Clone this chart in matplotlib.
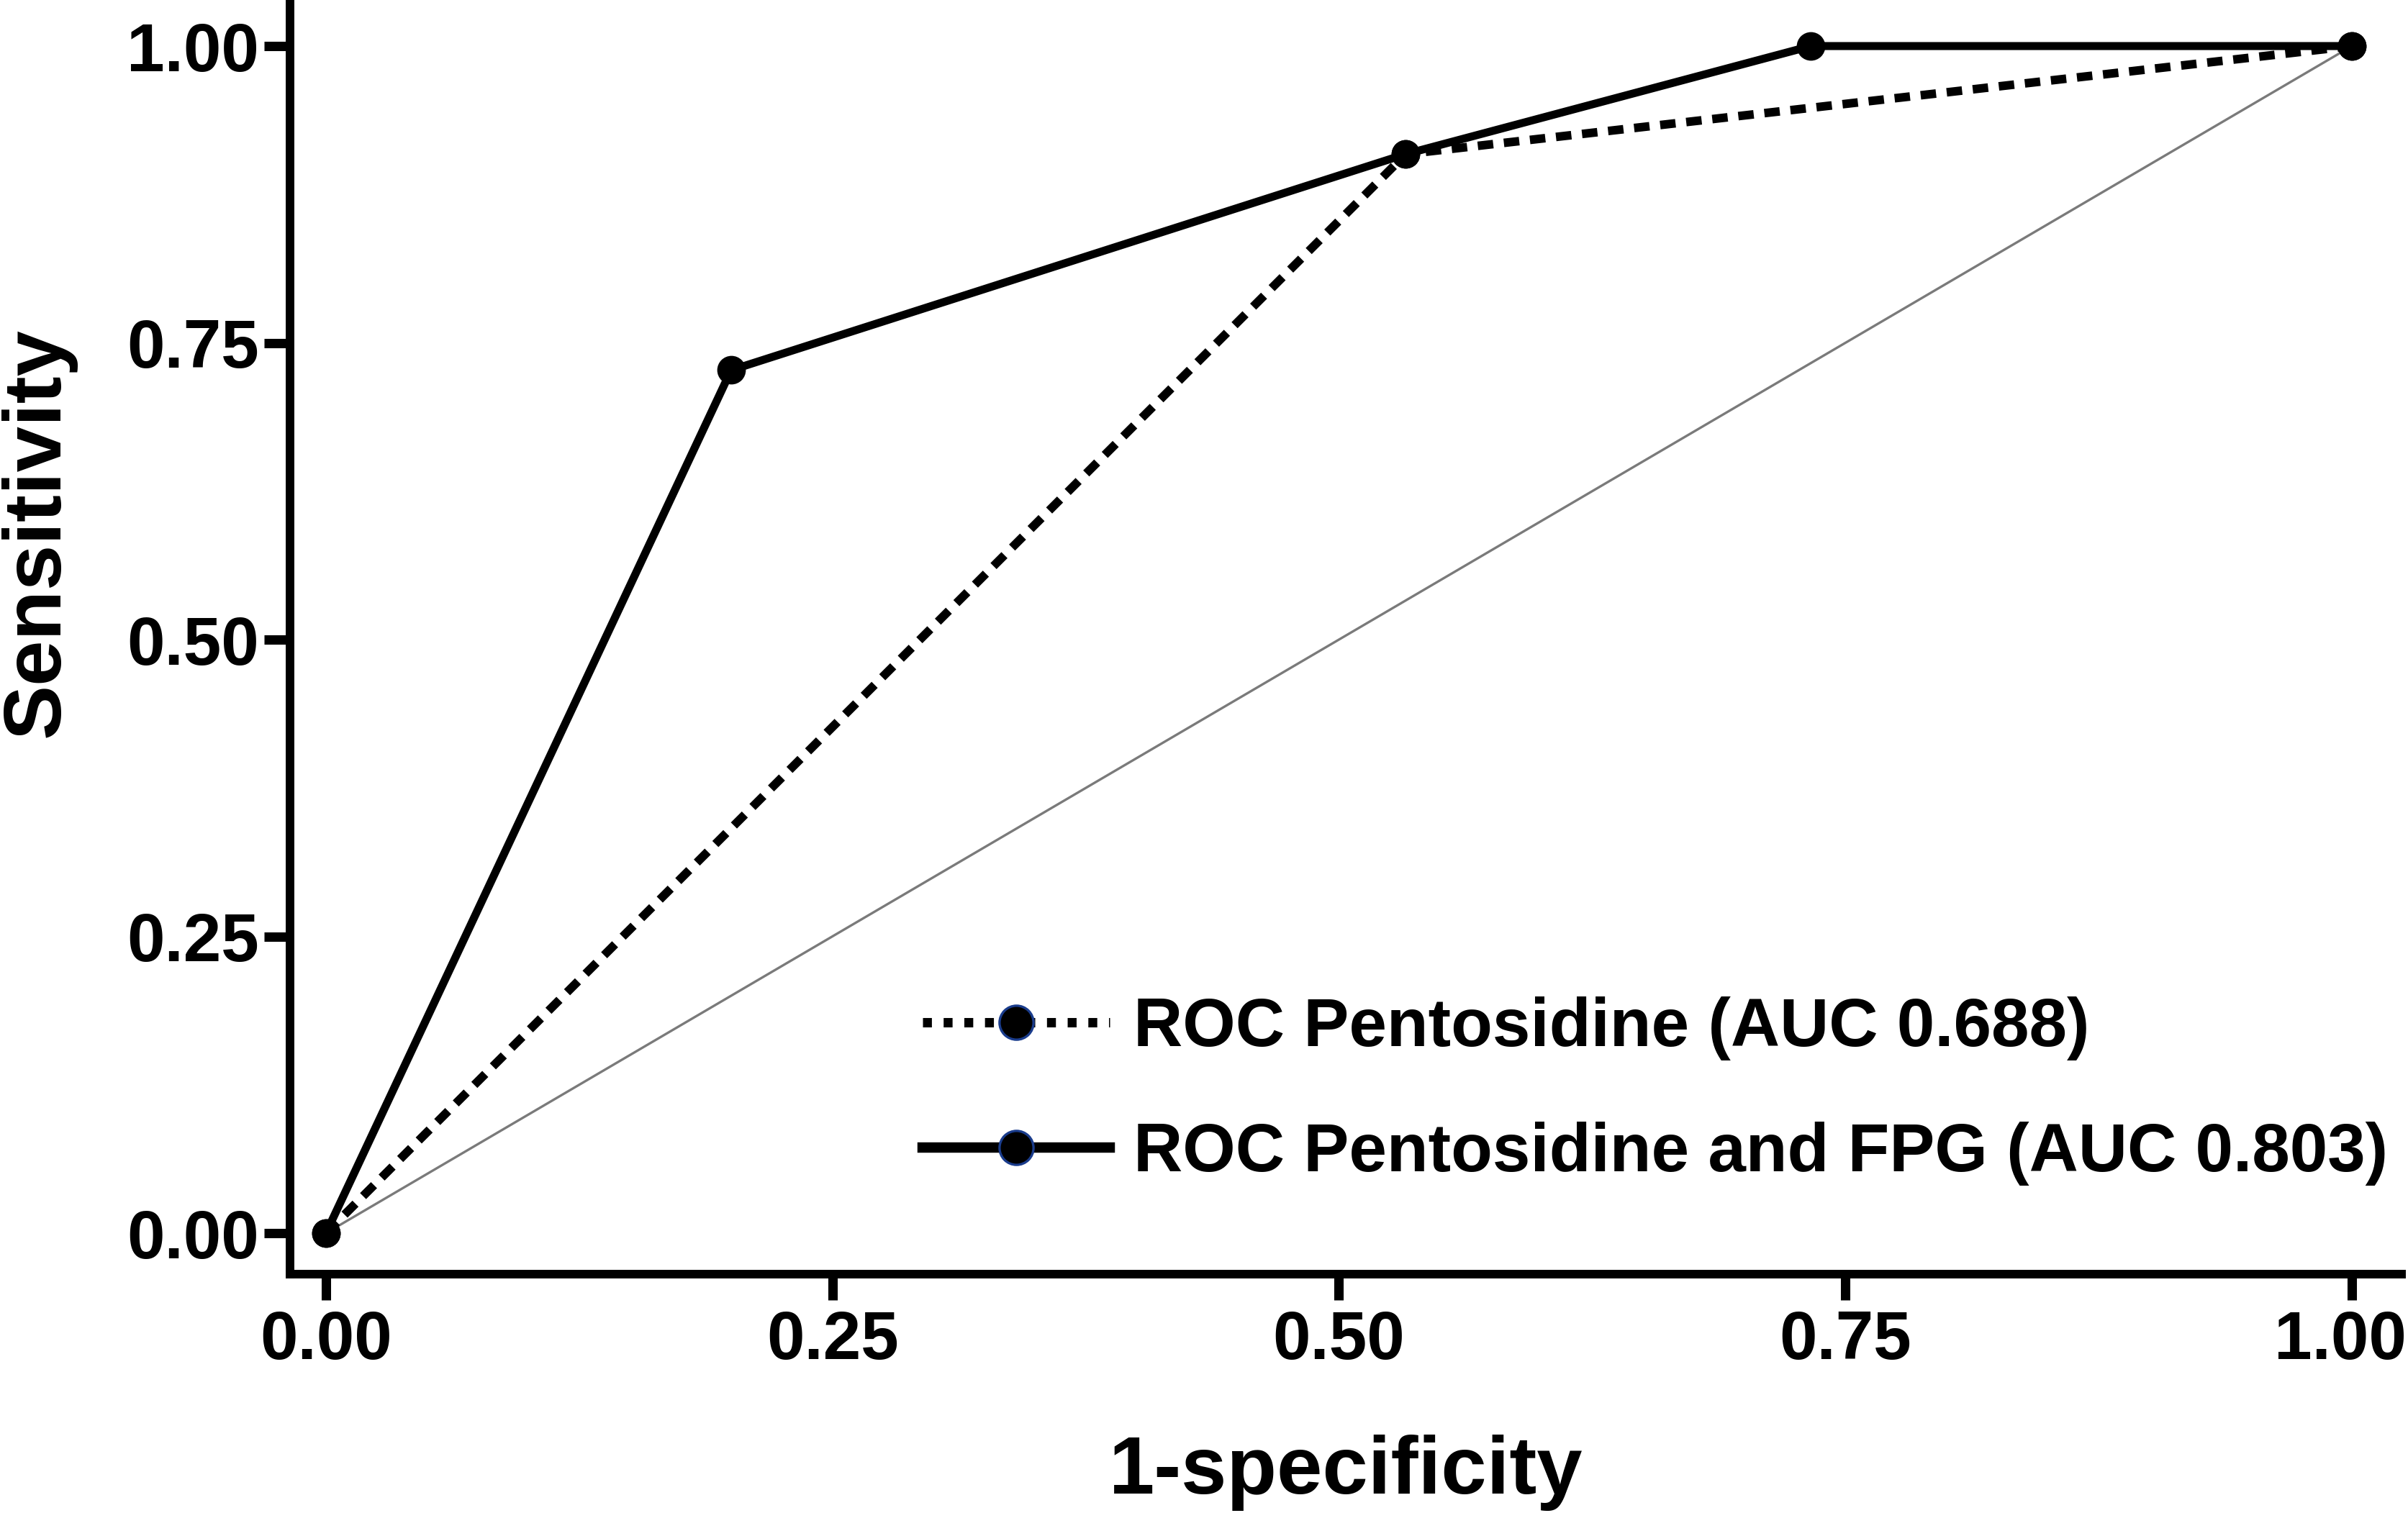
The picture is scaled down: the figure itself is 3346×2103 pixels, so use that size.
import matplotlib
matplotlib.use("Agg")
import matplotlib.pyplot as plt
from matplotlib.lines import Line2D
import matplotlib.transforms as mtransforms

# ---- data ----
pent_fpr = [0.0, 0.533, 1.0]
pent_tpr = [0.0, 0.909, 1.0]
comb_fpr = [0.0, 0.2, 0.533, 0.733, 1.0]
comb_tpr = [0.0, 0.727, 0.909, 1.0, 1.0]
ref_x = [0.0, 1.0]
ref_y = [0.0, 1.0]
x_ticks = [0.0, 0.25, 0.5, 0.75, 1.0]
y_ticks = [0.0, 0.25, 0.5, 0.75, 1.0]
tick_labels = ["0.00", "0.25", "0.50", "0.75", "1.00"]
labels = ["ROC Pentosidine (AUC 0.688)", "ROC Pentosidine and FPG (AUC 0.803)"]
xlabel = "1-specificity"
ylabel = "Sensitivity"

plt.rcParams['font.family'] = ['Liberation Sans', 'DejaVu Sans']
plt.rcParams['font.weight'] = 'bold'

fig = plt.figure(figsize=(16.73, 10.515), dpi=200)
ax = fig.add_axes([0.1204, 0.1579, 0.8769, 0.8421])

ax.plot(ref_x, ref_y, color='#7a7a7a', lw=1.2, zorder=1)
ax.plot(pent_fpr, pent_tpr, color='black', lw=4.3, dashes=(1.8, 1.25),
        dash_capstyle='butt', marker='o', ms=13.3, zorder=2)
ax.plot(comb_fpr, comb_tpr, color='black', lw=4.0, marker='o', ms=13.3,
        solid_joinstyle='round', zorder=3)

ax.set_xlim(-0.0178, 1.0245)
ax.set_ylim(-0.0345, 1.0388)
ax.set_xticks(x_ticks)
ax.set_xticklabels(tick_labels)
ax.set_yticks(y_ticks)
ax.set_yticklabels(tick_labels)

for s in ['top', 'right']:
    ax.spines[s].set_visible(False)
for s in ['left', 'bottom']:
    ax.spines[s].set_linewidth(4.3)

ax.tick_params(axis='both', direction='out', length=13, width=4.7,
               labelsize=34, color='black')
ax.tick_params(axis='x', pad=4.5)
ax.tick_params(axis='y', pad=2.5)
for lab in ax.get_xticklabels() + ax.get_yticklabels():
    lab.set_fontweight('bold')

# nudge the last x tick label slightly left so it stays inside the figure
last = ax.get_xticklabels()[-1]
last.set_transform(last.get_transform() +
                   mtransforms.ScaledTranslation(-16 / 200, 0, fig.dpi_scale_trans))

ax.set_xlabel(xlabel, fontsize=41, fontweight='bold')
ax.xaxis.set_label_coords(0.5, -0.1722)
ax.xaxis.label.set_va('baseline')

ax.set_ylabel(ylabel, fontsize=41, fontweight='bold', rotation=90,
              rotation_mode='anchor', ha='center', va='baseline')
ax.yaxis.set_label_coords(-0.1095, 0.582)

h1 = Line2D([0], [0], color='black', lw=4.7, dashes=(0.95, 1.25),
            dash_capstyle='butt', marker='o', ms=17,
            markerfacecolor='black', markeredgecolor='#1a3c8c', mew=1.2)
h2 = Line2D([0], [0], color='black', lw=5.2, marker='o', ms=17,
            markerfacecolor='black', markeredgecolor='#1a3c8c', mew=1.2)
leg = ax.legend([h1, h2], labels, loc='upper left',
                bbox_to_anchor=(0.3831, 0.3415), bbox_transform=fig.transFigure,
                frameon=False, borderpad=0, borderaxespad=0,
                handlelength=2.75, handletextpad=0.35, labelspacing=0.9,
                prop={'size': 34, 'weight': 'bold'})

fig.savefig("out.png", dpi=200)
